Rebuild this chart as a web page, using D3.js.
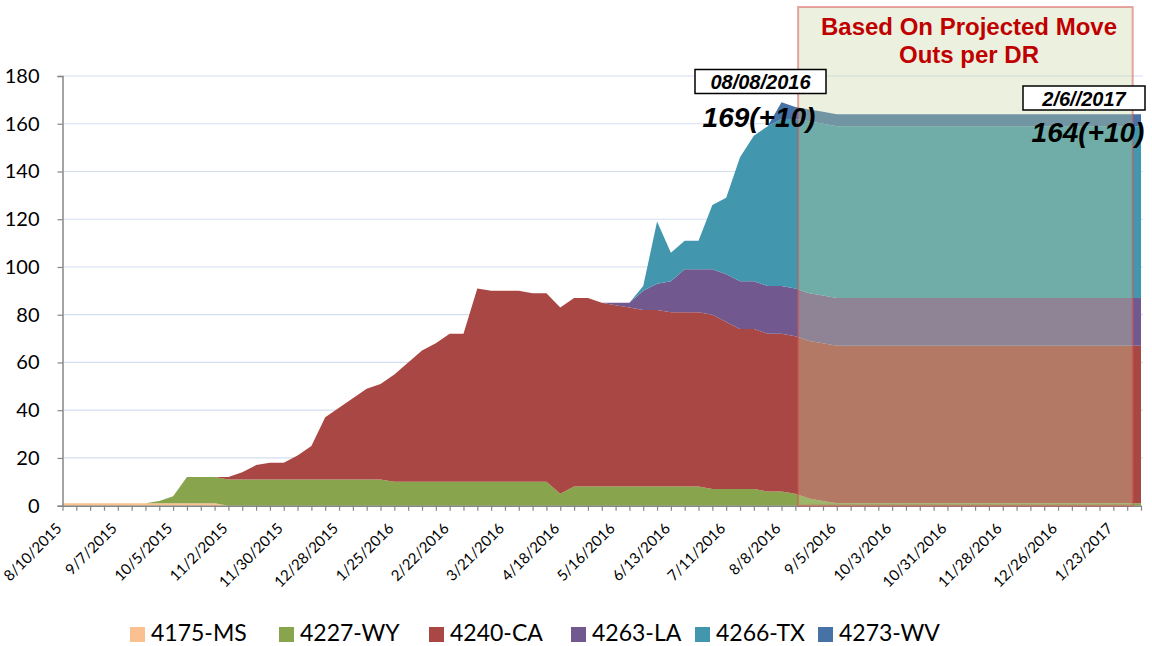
<!DOCTYPE html>
<html>
<head>
<meta charset="utf-8">
<script src="https://cdn.jsdelivr.net/npm/d3@7/dist/d3.min.js"></script>
<style>
  html, body { margin: 0; padding: 0; background: #fff; }
  svg { display: block; }
</style>
</head>
<body>
<svg id="chart" width="1152" height="646"></svg>
<script>
// ---- Data ----
const dates = [
  "8/10/2015","8/17/2015","8/24/2015","8/31/2015","9/7/2015","9/14/2015","9/21/2015","9/28/2015",
  "10/5/2015","10/12/2015","10/19/2015","10/26/2015","11/2/2015","11/9/2015","11/16/2015","11/23/2015",
  "11/30/2015","12/7/2015","12/14/2015","12/21/2015","12/28/2015","1/4/2016","1/11/2016","1/18/2016",
  "1/25/2016","2/1/2016","2/8/2016","2/15/2016","2/22/2016","2/29/2016","3/7/2016","3/14/2016",
  "3/21/2016","3/28/2016","4/4/2016","4/11/2016","4/18/2016","4/25/2016","5/2/2016","5/9/2016",
  "5/16/2016","5/23/2016","5/30/2016","6/6/2016","6/13/2016","6/20/2016","6/27/2016","7/4/2016",
  "7/11/2016","7/18/2016","7/25/2016","8/1/2016","8/8/2016","8/15/2016","8/22/2016","8/29/2016",
  "9/5/2016","9/12/2016","9/19/2016","9/26/2016","10/3/2016","10/10/2016","10/17/2016","10/24/2016",
  "10/31/2016","11/7/2016","11/14/2016","11/21/2016","11/28/2016","12/5/2016","12/12/2016","12/19/2016",
  "12/26/2016","1/2/2017","1/9/2017","1/16/2017","1/23/2017","1/30/2017","2/6/2017"
];
const seriesNames = ["4175-MS","4227-WY","4240-CA","4263-LA","4266-TX","4273-WV"];
const seriesColors = ["#FAC08F","#88A54E","#A94744","#71588F","#4297AE","#4672A6"];

// one row of 8 weeks per line (last line has 7)
const ms = [
  1,1,1,1,1,1,1,1,
  1,1,1,1,0,0,0,0,
  0,0,0,0,0,0,0,0,
  0,0,0,0,0,0,0,0,
  0,0,0,0,0,0,0,0,
  0,0,0,0,0,0,0,0,
  0,0,0,0,0,0,0,0,
  0,0,0,0,0,0,0,0,
  0,0,0,0,0,0,0,0,
  0,0,0,0,0,0,0];
const wy = [
  0,0,0,0,0,0,0,1,
  3,11,11,11,11,11,11,11,
  11,11,11,11,11,11,11,11,
  10,10,10,10,10,10,10,10,
  10,10,10,10,5,8,8,8,
  8,8,8,8,8,8,8,7,
  7,7,7,6,6,5,3,2,
  1,1,1,1,1,1,1,1,
  1,1,1,1,1,1,1,1,
  1,1,1,1,1,1,1];
const ca = [
  0,0,0,0,0,0,0,0,
  0,0,0,0,1,3,6,7,
  7,10,14,26,30,34,38,40,
  45,50,55,58,62,62,81,80,
  80,80,79,79,78,79,79,77,
  76,75,74,74,73,73,73,73,
  70,67,67,66,66,66,66,66,
  66,66,66,66,66,66,66,66,
  66,66,66,66,66,66,66,66,
  66,66,66,66,66,66,66];
const la = [
  0,0,0,0,0,0,0,0,
  0,0,0,0,0,0,0,0,
  0,0,0,0,0,0,0,0,
  0,0,0,0,0,0,0,0,
  0,0,0,0,0,0,0,0,
  1,2,8,11,13,18,18,19,
  20,20,20,20,20,20,20,20,
  20,20,20,20,20,20,20,20,
  20,20,20,20,20,20,20,20,
  20,20,20,20,20,20,20];
const tx = [
  0,0,0,0,0,0,0,0,
  0,0,0,0,0,0,0,0,
  0,0,0,0,0,0,0,0,
  0,0,0,0,0,0,0,0,
  0,0,0,0,0,0,0,0,
  0,0,2,26,12,12,12,27,
  32,52,61,67,70,71,72,72,
  72,72,72,72,72,72,72,72,
  72,72,72,72,72,72,72,72,
  72,72,72,72,72,72,72];
const wv = [
  0,0,0,0,0,0,0,0,
  0,0,0,0,0,0,0,0,
  0,0,0,0,0,0,0,0,
  0,0,0,0,0,0,0,0,
  0,0,0,0,0,0,0,0,
  0,0,0,0,0,0,0,0,
  0,0,0,0,7,5,5,5,
  5,5,5,5,5,5,5,5,
  5,5,5,5,5,5,5,5,
  5,5,5,5,5,5,5];
const yTicks = [0,20,40,60,80,100,120,140,160,180];

// ---- Build table ----
const seriesData = [ms, wy, ca, la, tx, wv];
const table = dates.map((d, i) => {
  const row = { i: i, date: d };
  seriesNames.forEach((n, k) => row[n] = seriesData[k][i] || 0);
  return row;
});

const svg = d3.select("#chart");
const x = d3.scaleLinear().domain([0, dates.length - 1]).range([62.5, 1141]);
const y = d3.scaleLinear().domain([0, 180]).range([505.7, 76]);

// gridlines
svg.append("g").selectAll("line").data(yTicks.filter(t => t > 0)).join("line")
  .attr("x1", x(0)).attr("x2", 1143)
  .attr("y1", d => y(d)).attr("y2", d => y(d))
  .attr("stroke", "#D3DDF0").attr("stroke-width", 1.2);

// stacked areas
const stack = d3.stack().keys(seriesNames);
const layers = stack(table);
const area = d3.area()
  .x(d => x(d.data.i))
  .y0(d => y(d[0]))
  .y1(d => y(d[1]));
svg.append("g").selectAll("path").data(layers).join("path")
  .attr("d", area)
  .attr("fill", (d, k) => seriesColors[k]);

// axes
const yAxis = d3.axisLeft(y).tickValues(yTicks).tickSize(5).tickPadding(18);
const gy = svg.append("g").attr("transform", `translate(${x(0)},0)`).call(yAxis);
gy.select(".domain").attr("stroke", "#868686").attr("stroke-width", 1.5);
gy.selectAll(".tick line").attr("stroke", "#868686").attr("stroke-width", 1.2);
gy.selectAll(".tick text").attr("font-family", "Lato, 'Noto Sans', sans-serif")
  .attr("font-size", 20).attr("fill", "#000");

const xAxis = d3.axisBottom(x).tickValues(d3.range(dates.length)).tickSize(5).tickSizeOuter(0)
  .tickFormat(i => i % 4 === 0 ? dates[i] : "");
const gx = svg.append("g").attr("transform", `translate(0,${y(0)})`).call(xAxis);
gx.select(".domain").attr("stroke", "#868686").attr("stroke-width", 1.5);
gx.selectAll(".tick line").attr("stroke", "#868686").attr("stroke-width", 1.2);
gx.selectAll(".tick text")
  .attr("font-family", "Lato, 'Noto Sans', sans-serif")
  .attr("font-size", 15).attr("fill", "#000")
  .attr("text-anchor", "end")
  .attr("transform", "translate(-4,20) rotate(-45)")
  .attr("dy", "0.35em").attr("y", 0).attr("x", 0);

// projected overlay box
svg.append("rect")
  .attr("x", x(53.2)).attr("y", 7)
  .attr("width", x(77.4) - x(53.2)).attr("height", y(0) - 7)
  .attr("fill", "rgb(198,215,160)").attr("fill-opacity", 0.35)
  .attr("stroke", "rgba(215,80,80,0.5)").attr("stroke-width", 2);

const boldArial = "'Liberation Sans', Arial, sans-serif";
svg.append("text").attr("x", 969).attr("y", 35).attr("text-anchor", "middle")
  .attr("font-family", boldArial).attr("font-weight", "bold").attr("font-size", 24)
  .attr("fill", "#C00000").text("Based On Projected Move");
svg.append("text").attr("x", 969).attr("y", 63).attr("text-anchor", "middle")
  .attr("font-family", boldArial).attr("font-weight", "bold").attr("font-size", 24)
  .attr("fill", "#C00000").text("Outs per DR");

// callouts
function callout(bx, by, bw, bh, label, tyLabel, big, bigX, bigY) {
  svg.append("rect").attr("x", bx).attr("y", by).attr("width", bw).attr("height", bh)
    .attr("fill", "#fff").attr("stroke", "#000").attr("stroke-width", 1.5);
  svg.append("text").attr("x", bx + bw / 2).attr("y", tyLabel).attr("text-anchor", "middle")
    .attr("font-family", boldArial).attr("font-weight", "bold").attr("font-style", "italic")
    .attr("font-size", 20).attr("fill", "#000").text(label);
  svg.append("text").attr("x", bigX).attr("y", bigY).attr("text-anchor", "middle")
    .attr("font-family", boldArial).attr("font-weight", "bold").attr("font-style", "italic")
    .attr("font-size", 28).attr("fill", "#000").text(big);
}
callout(695, 69.5, 131, 24, "08/08/2016", 88.5, "169(+10)", 759, 127);
callout(1023, 86, 122, 24, "2/6//2017", 105.5, "164(+10)", 1088, 142);

// legend
const legendX = [130, 279, 429, 571, 695, 818];
const legend = svg.append("g");
seriesNames.forEach((n, k) => {
  legend.append("rect").attr("x", legendX[k]).attr("y", 627).attr("width", 15).attr("height", 15)
    .attr("fill", seriesColors[k]);
  legend.append("text").attr("x", legendX[k] + 21).attr("y", 641)
    .attr("font-family", "Lato, 'Noto Sans', sans-serif").attr("font-size", 23)
    .attr("fill", "#000").text(n);
});
</script>
</body>
</html>
